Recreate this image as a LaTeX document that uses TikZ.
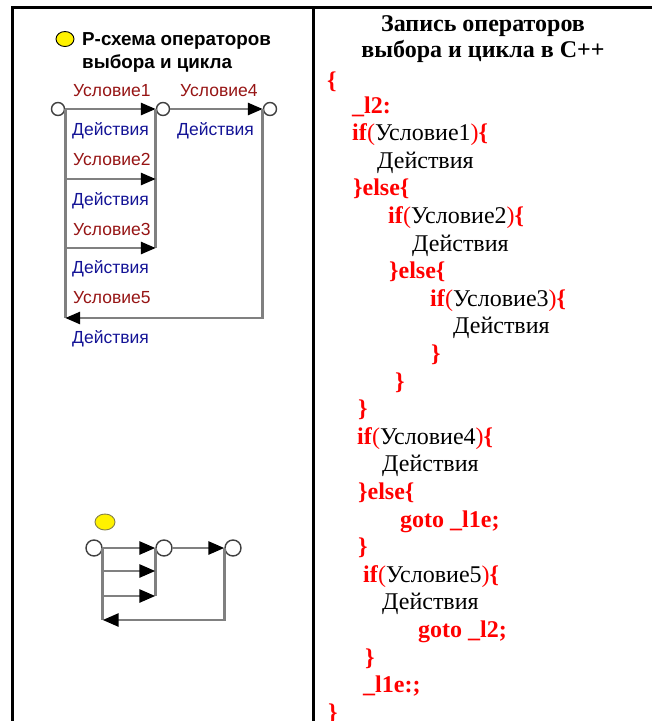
\documentclass[tikz,border=0pt]{standalone}
\usepackage{fontspec}
\setmainfont{Liberation Serif}
\newfontfamily\labfont{Liberation Sans}
\usetikzlibrary{arrows.meta,calc,shapes.geometric}
\definecolor{condcol}{RGB}{150,20,20}
\definecolor{actcol}{RGB}{20,20,150}
\definecolor{wirecol}{RGB}{128,128,128}
\definecolor{ringcol}{RGB}{64,64,64}
\newcommand\kw[1]{\textcolor{red}{\textbf{#1}}}
\newcommand\pr[1]{\textcolor{red}{#1}}
\tikzset{
  codeline/.style={anchor=base west, inner sep=0pt, font=\fontsize{24}{28}\selectfont},
  headline/.style={anchor=base, inner sep=0pt, font=\fontsize{24}{28}\selectfont\bfseries},
  cond/.style={anchor=base west, inner sep=0pt, text=condcol, font=\labfont\fontsize{17.5}{20}\selectfont},
  act/.style={anchor=base west, inner sep=0pt, text=actcol, font=\labfont\fontsize{17.5}{20}\selectfont},
  ptitle/.style={anchor=base west, inner sep=0pt, font=\labfont\bfseries\fontsize{18.8}{20}\selectfont},
  ring/.style={circle, draw=ringcol, fill=white, line width=1.4pt, inner sep=0pt, minimum size=#1},
  wire/.style={draw=wirecol, line width=2.8pt},
  flow/.style={wire, -{Triangle[length=15pt,width=12pt,color=black]}},
  sflow/.style={wire, -{Triangle[length=16pt,width=13pt,color=black]}},
  marker/.style={ellipse, fill=yellow, line width=0.9pt, inner sep=0pt},
}
\begin{document}
\begin{tikzpicture}[x=1pt,y=-1pt]
\useasboundingbox (0,0) rectangle (652,721);
% table frame
\draw[line width=3pt] (12,721) -- (12,7) -- (652,7);
\draw[line width=3pt] (313,7) -- (313,721);

% ---- left column: P-scheme ----
\node[marker, draw=black, minimum width=18pt, minimum height=15pt] (mk1) at (65,39) {};
\node[ptitle] (pt1) at (82,45) {P-схема операторов};
\node[ptitle] (pt2) at (82,68) {выбора и цикла};

\node[ring=13pt] (a1) at (58,109) {};
\node[ring=13pt] (a2) at (163,109) {};
\node[ring=13pt] (a3) at (270,109) {};
\coordinate (yb1) at (0,179);
\coordinate (yb2) at (0,248);
\coordinate (ybot) at (0,318);

\draw[flow] (a1) -- (a2);
\draw[flow] (a2) -- (a3);
\draw[wire] (a1.east) -- (a1.east |- ybot);
\draw[wire] (a2.west) -- (a2.west |- yb2);
\draw[flow] (a1.east |- yb1) -- (a2.west |- yb1);
\draw[flow] (a1.east |- yb2) -- (a2.west |- yb2);
\draw[flow] (a3.west) |- (a1.east |- ybot);

\node[cond] (c1) at (73,96) {Условие1};
\node[cond] (c4) at (180,96) {Условие4};
\node[act] (d1) at (72,135) {Действия};
\node[act] (d4) at (177,135) {Действия};
\node[cond] (c2) at (73,165) {Условие2};
\node[act] (d2) at (72,205) {Действия};
\node[cond] (c3) at (73,235) {Условие3};
\node[act] (d3) at (72,273) {Действия};
\node[cond] (c5) at (73,303) {Условие5};
\node[act] (d5) at (72,343) {Действия};

% compact form of the same scheme
\node[marker, draw=black!55!yellow, minimum width=20pt, minimum height=16pt] (mk2) at (105,522) {};
\node[ring=16pt] (b1) at (94,548) {};
\node[ring=16pt] (b2) at (164,548) {};
\node[ring=16pt] (b3) at (233,548) {};
\coordinate (sb1) at (0,571);
\coordinate (sb2) at (0,596);
\coordinate (sbot) at (0,620);
\draw[sflow] (b1) -- (b2);
\draw[sflow] (b2) -- (b3);
\draw[wire] (b1.east) -- (b1.east |- sbot);
\draw[wire] (b2.west) -- (b2.west |- sb2);
\draw[sflow] (b1.east |- sb1) -- (b2.west |- sb1);
\draw[sflow] (b1.east |- sb2) -- (b2.west |- sb2);
\draw[sflow] (b3.west) |- (b1.east |- sbot);

% ---- right column: C++ code ----
\node[headline] (h1) at (483,31) {Запись операторов};
\node[headline] (h2) at (483,57) {выбора и цикла в С++};

\node[codeline] (l01) at (327,88) {\kw{\{}};
\node[codeline] (l02) at (352,113) {\kw{\_l2:}};
\node[codeline] (l03) at (352,140.6) {\kw{if}\pr{(}Условие1\pr{)}\kw{\{}};
\node[codeline] (l04) at (377,168.2) {Действия};
\node[codeline] (l05) at (353,195.8) {\kw{\}else\{}};
\node[codeline] (l06) at (388,223.4) {\kw{if}\pr{(}Условие2\pr{)}\kw{\{}};
\node[codeline] (l07) at (412,251) {Действия};
\node[codeline] (l08) at (389,278.6) {\kw{\}else\{}};
\node[codeline] (l09) at (430,306.2) {\kw{if}\pr{(}Условие3\pr{)}\kw{\{}};
\node[codeline] (l10) at (453,333.8) {Действия};
\node[codeline] (l11) at (431,361.4) {\kw{\}}};
\node[codeline] (l12) at (395,389) {\kw{\}}};
\node[codeline] (l13) at (358,416.6) {\kw{\}}};
\node[codeline] (l14) at (357,444.2) {\kw{if}\pr{(}Условие4\pr{)}\kw{\{}};
\node[codeline] (l15) at (382,471.8) {Действия};
\node[codeline] (l16) at (358,499.4) {\kw{\}else\{}};
\node[codeline] (l17) at (400,527) {\kw{goto \_l1e;}};
\node[codeline] (l18) at (358,554.6) {\kw{\}}};
\node[codeline] (l19) at (363,582.2) {\kw{if}\pr{(}Условие5\pr{)}\kw{\{}};
\node[codeline] (l20) at (382,609.8) {Действия};
\node[codeline] (l21) at (418,637.4) {\kw{goto \_l2;}};
\node[codeline] (l22) at (365,665) {\kw{\}}};
\node[codeline] (l23) at (363,692.6) {\kw{\_l1e:;}};
\node[codeline] (l24) at (328,720.2) {\kw{\}}};
\end{tikzpicture}
\end{document}
